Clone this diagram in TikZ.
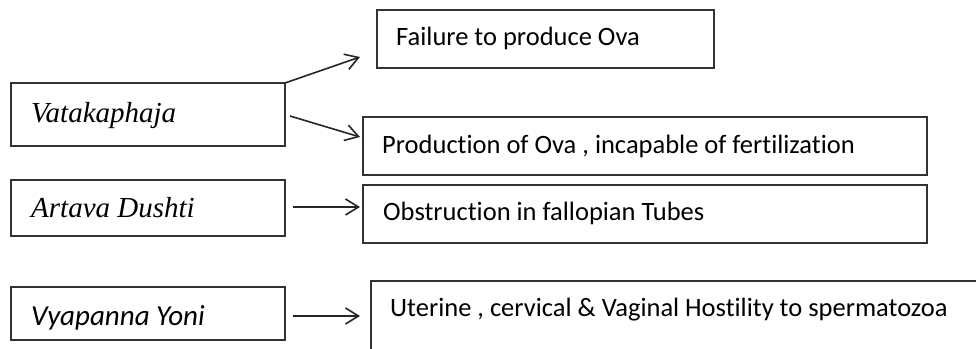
\documentclass[tikz,border=0pt]{standalone}
\usepackage{fontspec}
\setmainfont{Liberation Serif}
\newfontfamily\calfont[Ligatures=NoCommon]{Carlito}
\usetikzlibrary{arrows.meta,calc}
\begin{document}
\begin{tikzpicture}[x=1pt,y=-1pt,
  box/.style={draw=black!80, line width=1.3pt, rectangle, inner sep=0pt, outer sep=0pt, anchor=north west},
  lab/.style={anchor=base west, inner sep=0pt, font=\calfont\fontsize{26.5}{30}\selectfont},
  ital/.style={anchor=base west, inner sep=0pt, font=\itshape\fontsize{29}{33}\selectfont},
  arr/.style={-{Straight Barb[length=13pt,width=16pt,line width=1.6pt]}, line width=1.6pt, black!85}]
\useasboundingbox[fill=white] (0,0) rectangle (976,348);
\clip (0,0) rectangle (976,348);
% boxes
\node[box, minimum width=274, minimum height=63] (vata) at (11,83) {};
\node[box, minimum width=337, minimum height=58] (fail) at (377,10) {};
\node[box, minimum width=564, minimum height=58] (prod) at (363,117) {};
\node[box, minimum width=274, minimum height=56] (artava) at (11,180) {};
\node[box, minimum width=564, minimum height=58] (obst) at (363,185) {};
\node[box, minimum width=274, minimum height=53] (vyap) at (11,287) {};
\node[box, minimum width=700, minimum height=120] (uter) at (371,281) {};
% texts
\node[ital] (tvata) at (31,122) {Vatakaphaja};
\node[ital] (tartava) at (31,217) {Artava Dushti};
\node[lab, font=\calfont\itshape\fontsize{29}{33}\selectfont] (tvyap) at (31,325) {Vyapanna Yoni};
\node[lab] (tfail) at (396,45) {Failure to produce Ova};
\node[lab] (tprod) at (382,153) {Production of Ova , incapable of fertilization};
\node[lab] (tobst) at (383,220) {Obstruction in fallopian Tubes};
\node[lab] (tuter) at (390,316) {Uterine , cervical \& Vaginal Hostility to spermatozoa};
% arrows
\draw[arr] (vata.north east) -- ($(fail.south west)+(-17,-11)$);
\draw[arr] ($(vata.east)+(5,1.5)$) -- ($(prod.west)+(-3,-9)$);
\draw[arr] ($(artava.east)+(8,-1)$) -- ($(obst.west)+(-3,-7)$);
\draw[arr] ($(vyap.east)+(8,2.5)$) -- ($(uter.north west)+(-11,35)$);
\end{tikzpicture}
\end{document}
